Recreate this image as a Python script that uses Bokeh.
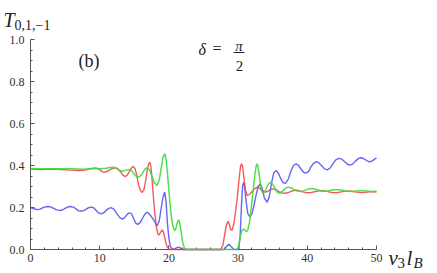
from bokeh.plotting import figure
from bokeh.models import Range1d, FixedTicker, Label
from bokeh.embed import file_html
from bokeh.resources import INLINE

# ---- data ----
blue_x = [0, 0.5, 1.0, 1.4, 1.75, 2.1, 2.5, 2.9, 3.35, 3.8, 4.2, 4.6, 5.0, 5.4, 5.8, 6.2, 6.55,
          6.9, 7.3, 7.7, 8.05, 8.4, 8.8, 9.15, 9.5, 9.85, 10.2, 10.55, 10.9, 11.25, 11.6, 12.0,
          12.45, 12.9, 13.3, 13.55, 13.8, 14.05, 14.3, 14.6, 14.9, 15.2, 15.5, 15.85, 16.2,
          16.55, 16.9, 17.2, 17.5, 17.9, 18.3, 18.6, 18.9, 19.15, 19.4, 19.6, 19.8, 20.0, 20.2,
          20.5, 20.9, 21.15, 21.4, 21.65, 21.9, 22.2, 28.0, 28.3, 28.66, 29.0, 29.4, 30.1, 30.3,
          30.5, 30.65, 30.8, 30.95, 31.15, 31.4, 31.7, 32.0, 32.3, 32.6, 32.9, 33.2, 33.5, 33.8,
          34.2, 34.5, 34.85, 35.15, 35.5, 35.85, 36.2, 36.5, 36.85, 37.25, 37.6, 38.0, 38.4,
          38.75, 39.1, 39.45, 39.8, 40.2, 40.5, 40.9, 41.3, 41.7, 42.1, 42.5, 42.9, 43.3, 43.7,
          44.15, 44.6, 45.0, 45.4, 45.8, 46.2, 46.6, 47.0, 47.4, 47.8, 48.15, 48.5, 48.8, 49.1,
          49.4, 49.7, 50.0]
blue_y = [0.200, 0.194, 0.190, 0.192, 0.198, 0.203, 0.205, 0.203, 0.196, 0.189, 0.186, 0.188,
          0.196, 0.203, 0.205, 0.202, 0.194, 0.185, 0.182, 0.185, 0.192, 0.199, 0.202, 0.198,
          0.186, 0.174, 0.170, 0.174, 0.185, 0.195, 0.199, 0.193, 0.172, 0.152, 0.145, 0.150,
          0.160, 0.170, 0.175, 0.170, 0.148, 0.126, 0.120, 0.128, 0.150, 0.170, 0.178, 0.168,
          0.155, 0.135, 0.112, 0.135, 0.200, 0.250, 0.273, 0.225, 0.120, 0.055, 0.015, 0.002,
          0.004, 0.009, 0.011, 0.008, 0.002, 0.0, 0.0, 0.013, 0.025, 0.013, 0.001, 0.0, 0.07,
          0.22, 0.30, 0.320, 0.30, 0.23, 0.172, 0.155, 0.170, 0.210, 0.260, 0.300, 0.313, 0.290,
          0.245, 0.225, 0.250, 0.320, 0.365, 0.376, 0.362, 0.335, 0.318, 0.315, 0.335, 0.370,
          0.400, 0.408, 0.400, 0.382, 0.368, 0.364, 0.372, 0.392, 0.410, 0.418, 0.412, 0.398,
          0.384, 0.379, 0.388, 0.408, 0.428, 0.434, 0.430, 0.418, 0.406, 0.402, 0.408, 0.422,
          0.434, 0.437, 0.433, 0.425, 0.419, 0.418, 0.422, 0.430, 0.435]

red_x = [0, 1.5, 3.0, 4.5, 5.8, 7.0, 7.6, 8.2, 8.8, 9.4, 9.7, 10.0, 10.3, 10.6, 11.0, 11.4,
         11.85, 12.3, 12.65, 13.0, 13.35, 13.7, 14.0, 14.3, 14.6, 14.85, 15.1, 15.35, 15.6,
         15.9, 16.15, 16.4, 16.65, 16.9, 17.1, 17.25, 17.4, 17.6, 17.8, 18.0, 18.2, 18.4,
         18.55, 18.8, 19.05, 19.25, 19.5, 19.75, 20.1, 27.5, 27.8, 28.0, 28.3, 28.55, 28.75,
         28.95, 29.15, 29.4, 29.65, 29.9, 30.15, 30.35, 30.5, 30.65, 30.85, 31.05, 31.3, 31.6,
         32.0, 32.4, 32.8, 33.1, 33.5, 33.9, 34.2, 34.6, 35.0, 35.4, 35.9, 36.4, 36.9, 37.4,
         37.9, 38.5, 39.0, 39.5, 40.0, 40.5, 41.2, 41.7, 42.2, 42.7, 43.2, 43.7, 44.2, 44.7,
         45.3, 46.0, 46.6, 47.2, 47.8, 48.4, 49.0, 49.5, 50.0]
red_y = [0.383, 0.381, 0.383, 0.381, 0.378, 0.376, 0.377, 0.381, 0.386, 0.388, 0.386, 0.380,
         0.372, 0.368, 0.370, 0.378, 0.386, 0.389, 0.384, 0.370, 0.354, 0.347, 0.355, 0.372,
         0.389, 0.395, 0.386, 0.355, 0.310, 0.280, 0.272, 0.285, 0.330, 0.385, 0.410, 0.416,
         0.395, 0.320, 0.233, 0.160, 0.105, 0.075, 0.068, 0.082, 0.094, 0.080, 0.040, 0.012,
         0.0, 0.0, 0.02, 0.06, 0.115, 0.135, 0.118, 0.093, 0.093, 0.125, 0.185, 0.250, 0.340,
         0.395, 0.408, 0.395, 0.340, 0.285, 0.258, 0.260, 0.275, 0.290, 0.297, 0.292, 0.279,
         0.273, 0.276, 0.284, 0.289, 0.286, 0.276, 0.269, 0.268, 0.273, 0.280, 0.283, 0.278,
         0.273, 0.270, 0.271, 0.276, 0.279, 0.281, 0.278, 0.274, 0.271, 0.270, 0.273, 0.277,
         0.279, 0.276, 0.273, 0.271, 0.272, 0.275, 0.275, 0.274]

green_x = [0, 2.0, 4.0, 6.0, 7.5, 8.8, 10.0, 10.9, 11.5, 11.9, 12.3, 12.8, 13.3, 13.8, 14.3,
           14.6, 15.0, 15.3, 15.6, 15.95, 16.3, 16.6, 16.9, 17.2, 17.55, 17.9, 18.3, 18.6, 18.9,
           19.15, 19.4, 19.6, 19.8, 20.0, 20.2, 20.4, 20.6, 20.85, 21.05, 21.25, 21.4, 21.55,
           21.75, 22.0, 22.2, 22.4, 29.9, 30.1, 30.3, 30.55, 30.8, 31.0, 31.2, 31.4, 31.65,
           31.9, 32.15, 32.4, 32.6, 32.72, 32.85, 33.05, 33.3, 33.55, 33.85, 34.2, 34.45, 34.7,
           35.0, 35.3, 35.6, 35.9, 36.25, 36.6, 36.95, 37.3, 37.7, 38.1, 38.55, 39.0, 39.45,
           39.9, 40.3, 40.7, 41.15, 41.6, 42.05, 42.5, 43.0, 43.5, 44.0, 44.5, 45.0, 45.5, 46.0,
           46.5, 47.0, 47.5, 48.0, 48.5, 49.0, 49.5, 50.0]
green_y = [0.386, 0.385, 0.384, 0.384, 0.382, 0.384, 0.384, 0.387, 0.391, 0.392, 0.389, 0.378,
           0.373, 0.378, 0.381, 0.375, 0.358, 0.348, 0.345, 0.352, 0.370, 0.385, 0.390, 0.380,
           0.350, 0.318, 0.305, 0.330, 0.390, 0.440, 0.456, 0.430, 0.360, 0.281, 0.205, 0.145,
           0.108, 0.090, 0.105, 0.132, 0.141, 0.128, 0.085, 0.035, 0.010, 0.0, 0.0, 0.02, 0.06,
           0.09, 0.098, 0.092, 0.084, 0.092, 0.130, 0.195, 0.275, 0.350, 0.395, 0.408, 0.400,
           0.355, 0.295, 0.268, 0.275, 0.300, 0.315, 0.320, 0.312, 0.292, 0.274, 0.268, 0.272,
           0.284, 0.294, 0.297, 0.293, 0.285, 0.278, 0.276, 0.279, 0.285, 0.289, 0.290, 0.287,
           0.283, 0.279, 0.277, 0.279, 0.283, 0.285, 0.285, 0.282, 0.279, 0.277, 0.276, 0.278,
           0.280, 0.280, 0.279, 0.277, 0.276, 0.277]

x_ticks = [0, 10, 20, 30, 40, 50]
x_minor = [2, 4, 6, 8, 12, 14, 16, 18, 22, 24, 26, 28, 32, 34, 36, 38, 42, 44, 46, 48]
y_ticks = [0.0, 0.2, 0.4, 0.6, 0.8, 1.0]
y_tick_labels = ["0.0", "0.2", "0.4", "0.6", "0.8", "1.0"]
y_minor = [0.05, 0.1, 0.15, 0.25, 0.3, 0.35, 0.45, 0.5, 0.55, 0.65, 0.7, 0.75, 0.85, 0.9, 0.95]

FONT = "Liberation Serif"
AX = "#555555"
LBL = "#333333"

p = figure(frame_width=346, frame_height=210,
           min_border_left=30, min_border_right=53, min_border_top=39, min_border_bottom=22,
           x_range=Range1d(0, 50), y_range=Range1d(0, 1),
           output_backend="svg", toolbar_location=None)
p.outline_line_color = None
p.xgrid.visible = False
p.ygrid.visible = False
p.background_fill_color = "white"
p.border_fill_color = "white"

p.xaxis.ticker = FixedTicker(ticks=x_ticks, minor_ticks=x_minor)
p.yaxis.ticker = FixedTicker(ticks=y_ticks, minor_ticks=y_minor)
p.yaxis.major_label_overrides = {t: s for t, s in zip(y_ticks, y_tick_labels)}
p.xaxis.major_label_overrides = {t: str(t) for t in x_ticks}

for ax in (p.xaxis, p.yaxis):
    ax.axis_line_color = AX
    ax.major_tick_line_color = AX
    ax.minor_tick_line_color = AX
    ax.major_tick_in = 4
    ax.major_tick_out = 0
    ax.minor_tick_in = 2
    ax.minor_tick_out = 0
    ax.major_label_text_font = FONT
    ax.major_label_text_font_size = "12px"
    ax.major_label_text_color = LBL
p.xaxis.major_label_standoff = 4
p.yaxis.major_label_standoff = 6

# curves drawn above the axis line (as in the reference, the zero stretch shows in green)
p.line(blue_x, blue_y, line_color="#4b4bf0", line_width=1.4, line_alpha=0.85, level="overlay")
p.line(red_x, red_y, line_color="#f43c3c", line_width=1.4, line_alpha=0.85, level="overlay")
p.line(green_x, green_y, line_color="#3ddc3d", line_width=1.5, line_alpha=0.9, level="overlay")

def lab(x, y, t, size, style="normal", align="left", place="center"):
    p.add_layout(Label(x=x, y=y, x_units="canvas", y_units="canvas", text=t,
                       text_font=FONT, text_font_size=size,
                       text_font_style=style, text_color="#222222",
                       text_align=align, text_baseline="alphabetic"), place)

# y title T_{0,1,-1} (in the top side panel so it is not clipped to the frame)
lab(3, 19, "T", "20px", "italic", place="above")
lab(14, 24, "0,1,\u22121", "14px", place="above")
# panel label
lab(78, 60, "(b)", "18px")
# delta = pi/2
lab(198, 49, "\u03b4", "16px", "italic")
lab(212, 48, "=", "16px")
lab(238.5, 45.5, "\u03c0", "15px", "italic", "center")
p.line([29.34, 30.92], [0.938, 0.938], line_color="#222222", line_width=1)
lab(239, 65, "2", "15px", "normal", "center")
# x title v_3 l_B (in the right side panel)
lab(388, 257, "v", "21px", "italic", place="right")
lab(397, 262, "3", "15px", place="right")
lab(406, 257, "l", "21px", "italic", place="right")
lab(413, 262, "B", "15px", "italic", place="right")

open("out.html", "w").write(file_html(p, INLINE))
